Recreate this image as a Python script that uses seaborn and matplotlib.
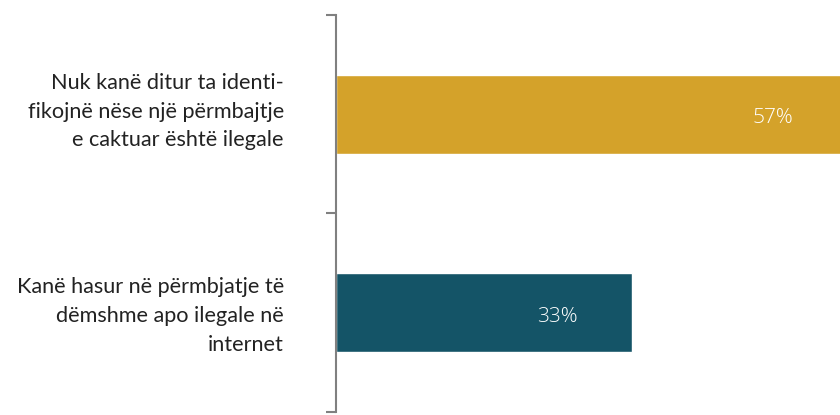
import matplotlib.pyplot as plt
import pandas as pd
import seaborn as sns

# Data
categories = ['Nuk kanë ditur ta identi-\nfikojnë nëse një përmbajtje\ne caktuar është ilegale',
              'Kanë hasur në përmbjatje të\ndëmshme apo ilegale në\ninternet']
values = [57, 33]
labels = ['57%', '33%']
colors = ['#D4A22A', '#145467']

df = pd.DataFrame({'category': categories, 'value': values})

sns.set_style('white')
plt.rcParams['font.family'] = ['Lato', 'DejaVu Sans']

fig = plt.figure(figsize=(8.4, 4.15), dpi=100)
ax = fig.add_axes([336 / 840, 3 / 415, 504 / 840, 397 / 415])

sns.barplot(data=df, x='value', y='category', hue='category', palette=colors,
            width=0.4, legend=False, ax=ax, orient='h', saturation=1)

# percentage labels inside the bars
for i, (v, lab) in enumerate(zip(values, labels)):
    ax.text(v - 8.3, i + 0.02, lab, color='white', fontsize=15, ha='center', va='center',
            family=['Open Sans', 'DejaVu Sans'], fontweight='light')

ax.set_xlim(0, 504 / 8.97)
ax.set_ylim(1.5, -0.5)

# category boundaries as major ticks, category names on minor ticks
ax.set_yticks([-0.5, 0.5, 1.5])
ax.set_yticklabels(['', '', ''])
ax.set_yticks([-0.045, 0.985], minor=True)
ax.set_yticklabels(categories, minor=True, fontsize=15.6, ha='right', linespacing=1.54,
                   color='#222222')
ax.tick_params(axis='y', which='major', length=7, width=1.5, color='#808080', direction='out', left=True)
ax.tick_params(axis='y', which='minor', length=0, pad=37.5)
ax.set_xticks([])
ax.set_xlabel('')
ax.set_ylabel('')

for s in ['top', 'right', 'bottom']:
    ax.spines[s].set_visible(False)
ax.spines['left'].set_color('#808080')
ax.spines['left'].set_linewidth(1.5)

fig.savefig('out.png', dpi=100)
